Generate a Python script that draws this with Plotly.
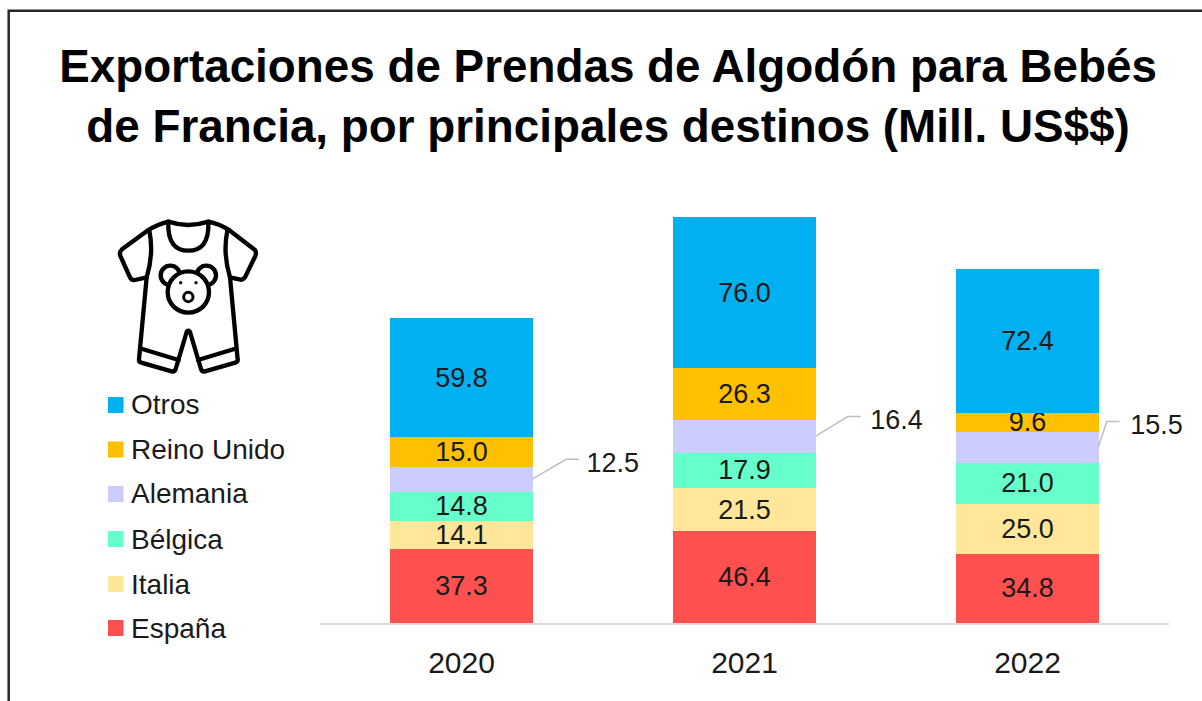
import base64
import plotly.graph_objects as go

years = [2020, 2021, 2022]
espana = [37.3, 46.4, 34.8]
italia = [14.1, 21.5, 25.0]
belgica = [14.8, 17.9, 21.0]
alemania = [12.5, 16.4, 15.5]
reino_unido = [15.0, 26.3, 9.6]
otros = [59.8, 76.0, 72.4]
series = [("España", espana, "#FF5050"), ("Italia", italia, "#FFE699"),
          ("Bélgica", belgica, "#66FFCC"), ("Alemania", alemania, "#CCCCFF"),
          ("Reino Unido", reino_unido, "#FFC000"), ("Otros", otros, "#00B0F0")]

W, H = 1202, 701
FONT = "Liberation Sans, Arial, sans-serif"
INK = "#1a1a1a"
LABEL = 27

fig = go.Figure()
for name, vals, col in series:
    fig.add_bar(x=years, y=vals, name=name, width=0.502, marker_color=col, marker_line_width=0,
                text=None if name == "Alemania" else [f"{v:.1f}" for v in vals],
                textposition="none" if name == "Alemania" else "inside",
                insidetextanchor="middle", textangle=0, constraintext="none",
                insidetextfont=dict(family=FONT, size=LABEL, color=INK),
                hoverinfo="name+y", showlegend=False)

# Leader lines and outside labels for Alemania
base = [a + b + c for a, b, c in zip(espana, italia, belgica)]
mids = [b + v / 2 for b, v in zip(base, alemania)]
rises = [10, 10, 13]
runs = [0.12, 0.115, 0.03]
gaps = [0.072, 0.079, 0.083]
for x, m, r, v, run, gap in zip(years, mids, rises, alemania, runs, gaps):
    fig.add_scatter(x=[x + 0.25, x + 0.25 + run, x + 0.25 + run + 0.045], y=[m, m + r, m + r],
                    mode="lines", line=dict(color="#BFBFBF", width=1.5),
                    showlegend=False, hoverinfo="skip", cliponaxis=False)
    fig.add_scatter(x=[x + 0.25 + run + gap], y=[m + r - 3], mode="text", text=[f"{v:.1f}"],
                    textposition="middle right", cliponaxis=False,
                    textfont=dict(family=FONT, size=LABEL, color=INK),
                    showlegend=False, hoverinfo="skip")

icon = """<svg xmlns='http://www.w3.org/2000/svg' viewBox='0 0 660 600' width='660' height='600'>
<g fill='none' stroke='#000' stroke-width='13' stroke-linejoin='round' stroke-linecap='round'>
<path d='M235 65 Q295 85 355 65 Q390 72 420 92 L495 150 Q500 158 496 168 L465 232 Q458 242 448 238 L420 232 L443 478 Q444 486 436 488 L345 514 Q336 516 333 507 L300 396 Q295 388 290 396 L257 507 Q254 516 245 514 L154 488 Q146 486 147 478 L170 232 L135 240 Q126 242 120 232 L92 170 Q86 158 96 148 L172 92 Q200 74 235 65 Z'/>
<path d='M235 65 C232 130 258 152 295 152 C332 152 358 130 355 65'/>
<path d='M178 92 Q192 160 170 232 M412 92 Q398 160 420 232'/>
<path d='M157 447 L266 480 M433 447 L324 480'/>
<circle cx='241' cy='226' r='29' fill='#fff'/>
<circle cx='349' cy='226' r='29' fill='#fff'/>
<circle cx='295' cy='276' r='62' fill='#fff'/>
<circle cx='295' cy='291' r='14' stroke-width='9'/>
<circle cx='272' cy='248' r='5' fill='#000' stroke='none'/>
<circle cx='318' cy='248' r='5' fill='#000' stroke='none'/>
</g></svg>"""
icon_uri = "data:image/svg+xml;base64," + base64.b64encode(icon.encode()).decode()

# Legend, listed top to bottom as in the reference
legend_y = [405, 449.5, 494, 539, 584, 628]
annotations = []
shapes = [dict(type="rect", xref="paper", yref="paper", x0=8.7 / W, x1=1240 / W, y0=1 - 10.7 / H, y1=-0.1,
               line=dict(color="#262626", width=2.5), fillcolor="rgba(0,0,0,0)")]
for (name, _, col), py in zip(reversed(series), legend_y):
    annotations.append(dict(text=name, xref="paper", yref="paper", x=129 / W, y=1 - py / H,
                            xanchor="left", yanchor="middle", showarrow=False,
                            font=dict(family=FONT, size=28, color=INK)))
    shapes.append(dict(type="rect", xref="paper", yref="paper", x0=108 / W, x1=123.5 / W,
                       y0=1 - (py + 8) / H, y1=1 - (py - 8) / H, fillcolor=col, line_width=0))

fig.update_layout(
    width=W, height=H, barmode="stack", autosize=False,
    margin=dict(l=0, r=0, t=0, b=0), paper_bgcolor="white", plot_bgcolor="white",
    font=dict(family=FONT, color=INK),
    title=dict(text="Exportaciones de Prendas de Algodón para Bebés<br>de Francia, por principales destinos (Mill. US$$)",
               x=608 / W, xanchor="center", y=1 - 82 / H, yanchor="top",
               font=dict(family=FONT, size=45.8, color="#000000", weight="bold")),
    xaxis=dict(domain=[320 / W, 1169 / W], range=[2019.5, 2022.5], tickmode="array", tickvals=years,
               ticktext=[str(y) for y in years], showgrid=False, zeroline=False, showline=True,
               linecolor="#D9D9D9", linewidth=1.5, ticks="", ticklabelstandoff=12,
               tickfont=dict(family=FONT, size=30, color=INK)),
    yaxis=dict(domain=[1 - 623 / H, 1 - 200 / H], range=[0, 213.1], visible=False),
    images=[dict(source=icon_uri, xref="paper", yref="paper", x=90 / W, y=1 - 200 / H,
                 sizex=220 / W, sizey=200 / H, xanchor="left", yanchor="top", sizing="stretch", layer="above")],
    shapes=shapes, annotations=annotations, showlegend=False,
)
fig.write_html("out.html", config=dict(displayModeBar=False),
               post_script="document.body.style.margin='0';document.documentElement.style.overflow='hidden';")
